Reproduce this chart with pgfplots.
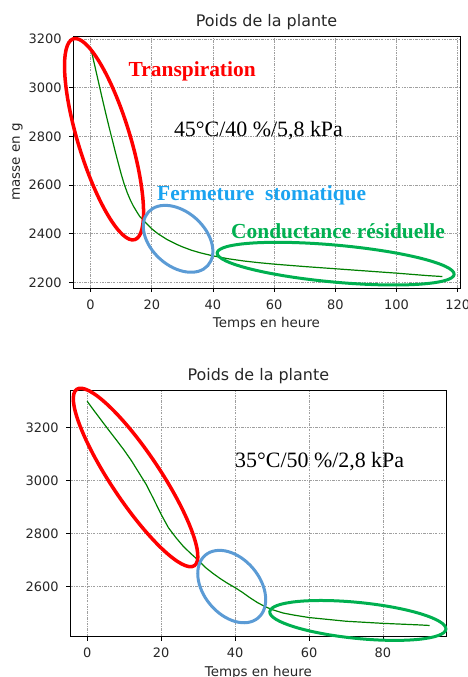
\documentclass[border=0pt]{standalone}
\usepackage{fontspec}
\setmainfont{DejaVu Sans}
\newfontfamily\serif{Liberation Serif}
\usepackage{pgfplots}
\pgfplotsset{compat=1.18}
\usepackage{pgfplotstable}
\usetikzlibrary{shapes.geometric}
\definecolor{mplgreen}{rgb}{0,0.5,0}
\definecolor{offred}{HTML}{FF0000}
\definecolor{offblue}{HTML}{5B9BD5}
\definecolor{offlblue}{HTML}{1AA3F0}
\definecolor{offgreen}{HTML}{00B050}

\pgfplotstableread{
x y
0 3165
1 3110
2 3055
3 3000
4 2945
5 2892
6 2840
7 2790
8 2740
9 2692
10 2645
11 2603
12 2568
13 2538
14 2513
15 2492
16 2472
18 2445
20 2420
22 2400
25 2376
28 2357
30 2346
33 2332
36 2321
40 2309
45 2297
50 2288
55 2281
60 2275
70 2265
80 2256
90 2247
100 2238
110 2228
115 2224
}\tabA

\pgfplotstableread{
x y
0 3300
2 3262
4 3225
6 3188
8 3152
10 3115
12 3075
14 3030
16 2985
18 2930
20 2873
22 2822
24 2785
26 2752
28 2725
30 2700
32 2672
34 2650
36 2630
38 2612
40 2596
42 2578
44 2558
46 2540
48 2525
50 2513
53 2500
56 2492
60 2483
65 2476
70 2469
75 2465
80 2461
85 2458
90 2455
92.6 2453
}\tabB

\pgfplotsset{
  myax/.style={
    scale only axis,
    clip=false,
    axis line style={black, line width=0.8bp},
    tick align=outside,
    major tick length=4bp,
    tick style={black, line width=0.6bp},
    xtick pos=bottom, ytick pos=left,
    grid=major,
    major grid style={gray!75, line width=0.6bp, dash pattern=on 2.5bp off 1.2bp on 0.8bp off 1.2bp},
    tick label style={font=\fontsize{13}{15}\selectfont, text=black!85},
    /pgf/number format/assume math mode=true,
    /pgf/number format/1000 sep={},
    label style={font=\fontsize{13.5}{16}\selectfont, text=black!85},
    title style={font=\fontsize{16}{19}\selectfont, text=black!85, at={(axis description cs:0.5,1)}, anchor=base, yshift=3.5bp},
    yticklabel style={anchor=east, inner sep=0pt, xshift=-7.3bp},
    xlabel style={at={(axis description cs:0.5,0)}, anchor=base, yshift=-40bp},
  },
}
\tikzset{
  ann/.style={font=\serif\bfseries\fontsize{21.5}{24}\selectfont, anchor=base west, inner sep=0pt},
  cond/.style={font=\serif\fontsize{22}{24}\selectfont, anchor=base west, inner sep=0pt, text=black},
  ell/.style={ellipse, inner sep=0pt, draw},
}

\begin{document}
\begin{tikzpicture}
\useasboundingbox (0,0) rectangle (468bp,677bp);

% ---------- top plot ----------
\begin{axis}[myax,
  at={(73bp,389bp)}, anchor=south west,
  width=387bp, height=252bp,
  xmin=-5.75, xmax=120.75, ymin=2177, ymax=3212,
  xtick={0,20,...,120}, ytick={2200,2400,...,3200},
  xticklabel style={anchor=base, inner sep=0pt, yshift=-18bp},
  title={Poids de la plante},
  xlabel={Temps en heure},
  ylabel={masse en g},
  ylabel style={at={(axis description cs:-0.137,0.5)}, anchor=base},
]
\addplot[mplgreen, line width=1.2bp] table[x=x,y=y] {\tabA};
\node[ell, draw=offred, line width=3.5bp, minimum width=52bp, minimum height=210bp, rotate=17] at (axis cs:4.4,2788) {};
\node[ell, draw=offblue, line width=3bp, minimum width=80bp, minimum height=54bp, rotate=-42] at (axis cs:28.6,2379) {};
\node[ell, draw=offgreen, line width=3bp, minimum width=238bp, minimum height=37bp, rotate=-5.2] at (axis cs:80.1,2277) {};
\node[ann, text=offred] at (axis cs:12.4,3046) {Transpiration};
\node[cond] at (axis cs:27.2,2800) {45°C/40 \%/5,8 kPa};
\node[ann, text=offlblue] at (axis cs:21.7,2535) {Fermeture\ \ stomatique};
\node[ann, text=offgreen] at (axis cs:45.9,2382) {Conductance résiduelle};
\end{axis}

% ---------- bottom plot ----------
\begin{axis}[myax,
  at={(70bp,40.3bp)}, anchor=south west,
  width=376.7bp, height=246.7bp,
  xmin=-4.63, xmax=97.23, ymin=2410.6, ymax=3342.4,
  xtick={0,20,...,80}, ytick={2600,2800,...,3200},
  xticklabel style={anchor=base, inner sep=0pt, yshift=-16.6bp},
  title={Poids de la plante},
  xlabel={Temps en heure},
]
\addplot[mplgreen, line width=1.2bp] table[x=x,y=y] {\tabB};
\node[ell, draw=offred, line width=3.5bp, minimum width=212bp, minimum height=49bp, rotate=-56.3] at (axis cs:13.1,3012) {};
\node[ell, draw=offblue, line width=3bp, minimum width=82bp, minimum height=56bp, rotate=-50] at (axis cs:39.1,2600) {};
\node[ell, draw=offgreen, line width=3bp, minimum width=177bp, minimum height=36bp, rotate=-5.7] at (axis cs:73.2,2472) {};
\node[cond] at (axis cs:40.0,3049) {35°C/50 \%/2,8 kPa};
\end{axis}
\end{tikzpicture}
\end{document}
